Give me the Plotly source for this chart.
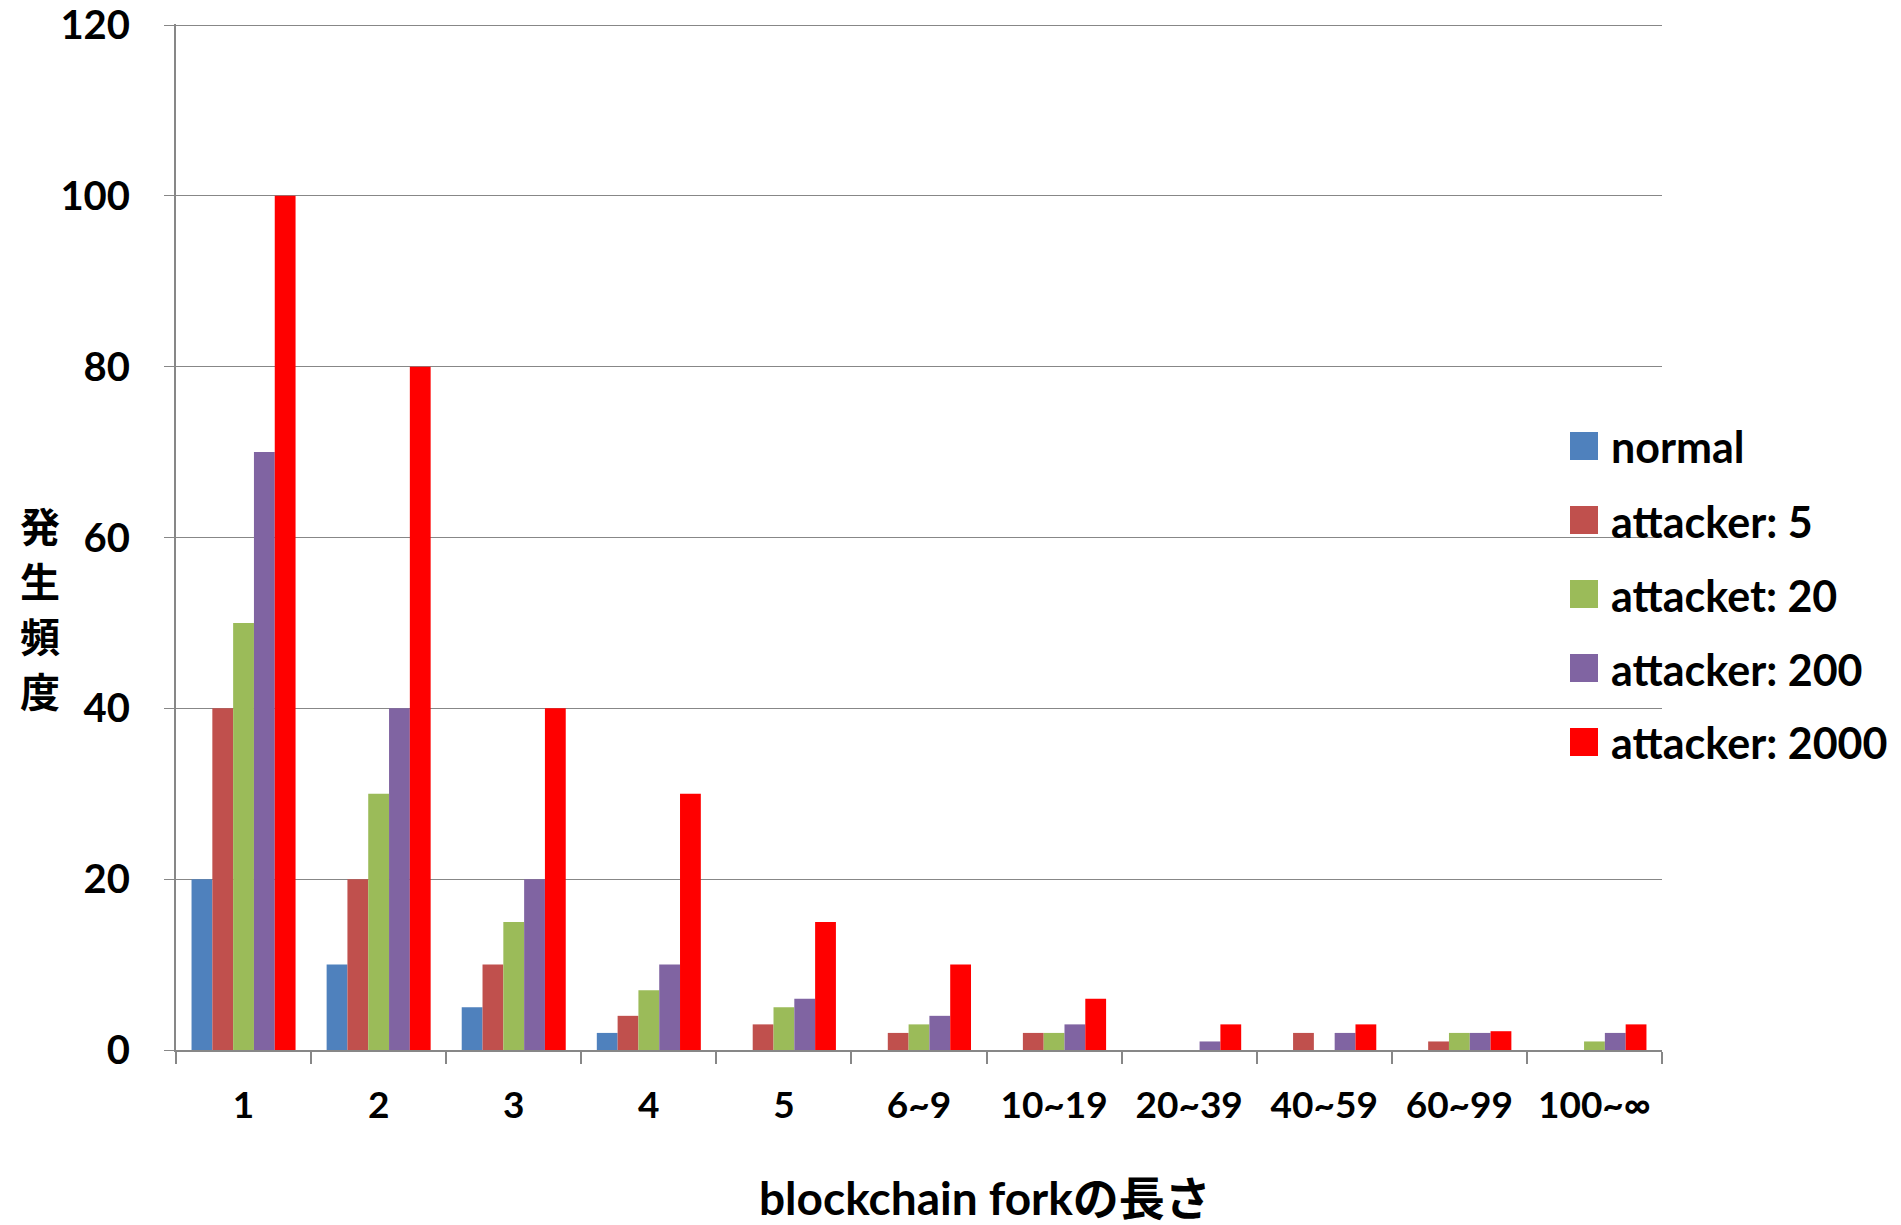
import plotly.graph_objects as go

# Fork-length buckets and occurrence counts per scenario
categories = ["1", "2", "3", "4", "5", "6~9", "10~19", "20~39", "40~59", "60~99", "100~∞"]
normal = [20, 10, 5, 2, 0, 0, 0, 0, 0, 0, 0]
attacker_5 = [40, 20, 10, 4, 3, 2, 2, 0, 2, 1, 0]
attacket_20 = [50, 30, 15, 7, 5, 3, 2, 0, 0, 2, 1]
attacker_200 = [70, 40, 20, 10, 6, 4, 3, 1, 2, 2, 2]
attacker_2000 = [100, 80, 40, 30, 15, 10, 6, 3, 3, 2.2, 3]

series_names = ["normal", "attacker: 5", "attacket: 20", "attacker: 200", "attacker: 2000"]
series_values = [normal, attacker_5, attacket_20, attacker_200, attacker_2000]
series_colors = ["#4F81BD", "#C0504D", "#9BBB59", "#8064A2", "#FF0000"]

y_title = "発生頻度"
x_title = "blockchain forkの長さ"

W, H = 1901, 1225
L, R, T, B = 176, 1662, 24, 1050  # plot area edges in pixels
Y_MAX = 120

FONT = "Lato"
GRID = "#878787"

fig = go.Figure()
for name, vals, col in zip(series_names, series_values, series_colors):
    fig.add_trace(go.Bar(
        x=categories, y=vals, name=name,
        marker=dict(color=col, line=dict(width=0)),
        showlegend=False,
    ))


def px_x(px):
    return (px - L) / (R - L)


def px_y(py):
    return (B - py) / (B - T)


# Legend: square swatches with bold labels on the right side
shapes = []
annotations = []
row0, step, sw = 446, 74, 28
for i, (name, col) in enumerate(zip(series_names, series_colors)):
    cy = row0 + i * step
    shapes.append(dict(
        type="rect", xref="paper", yref="paper",
        x0=px_x(1570), x1=px_x(1570 + sw),
        y0=px_y(cy + sw / 2), y1=px_y(cy - sw / 2),
        fillcolor=col, line=dict(width=0),
    ))
    annotations.append(dict(
        xref="paper", yref="paper", x=px_x(1609), y=px_y(cy + 1),
        text=name, showarrow=False, xanchor="left", yanchor="middle",
        font=dict(family=FONT, size=43, color="black", weight="bold"),
    ))

# Vertical y-axis title, one character per row
for i, ch in enumerate(y_title):
    annotations.append(dict(
        xref="paper", yref="paper", x=px_x(40), y=px_y(525 + i * 55),
        text=ch, showarrow=False, xanchor="center", yanchor="middle",
        font=dict(family="Noto Sans CJK JP", size=40, color="black", weight="bold"),
    ))

# x-axis title
annotations.append(dict(
    xref="paper", yref="paper", x=px_x(985), y=px_y(1197),
    text=x_title, showarrow=False,
    xanchor="center", yanchor="middle",
    font=dict(family=FONT + ", Noto Sans CJK JP", size=46, color="black", weight="bold"),
))

fig.update_layout(
    width=W, height=H,
    margin=dict(l=L, r=W - R, t=T, b=H - B, pad=0, autoexpand=False),
    paper_bgcolor="white", plot_bgcolor="white",
    barmode="group", bargap=0.23, bargroupgap=0,
    shapes=shapes, annotations=annotations,
    font=dict(family=FONT, color="black"),
)

fig.update_xaxes(
    type="category", automargin=False,
    showline=True, linecolor=GRID, linewidth=2,
    ticks="outside", tickson="boundaries", ticklen=12, tickcolor=GRID, tickwidth=2,
    showgrid=False,
    tickfont=dict(family=FONT, size=37, color="black", weight="bold"),
    ticklabelstandoff=22,
)
fig.update_yaxes(
    range=[0, Y_MAX * 1.001], tickmode="array", automargin=False,
    tickvals=list(range(0, Y_MAX + 1, 20)),
    showline=True, linecolor=GRID, linewidth=2,
    ticks="outside", ticklen=10, tickcolor=GRID, tickwidth=1,
    showgrid=True, gridcolor=GRID, gridwidth=1,
    zeroline=False,
    tickfont=dict(family=FONT, size=40, color="black", weight="bold"),
    ticklabelstandoff=26,
)

fig.write_html("out.html")
